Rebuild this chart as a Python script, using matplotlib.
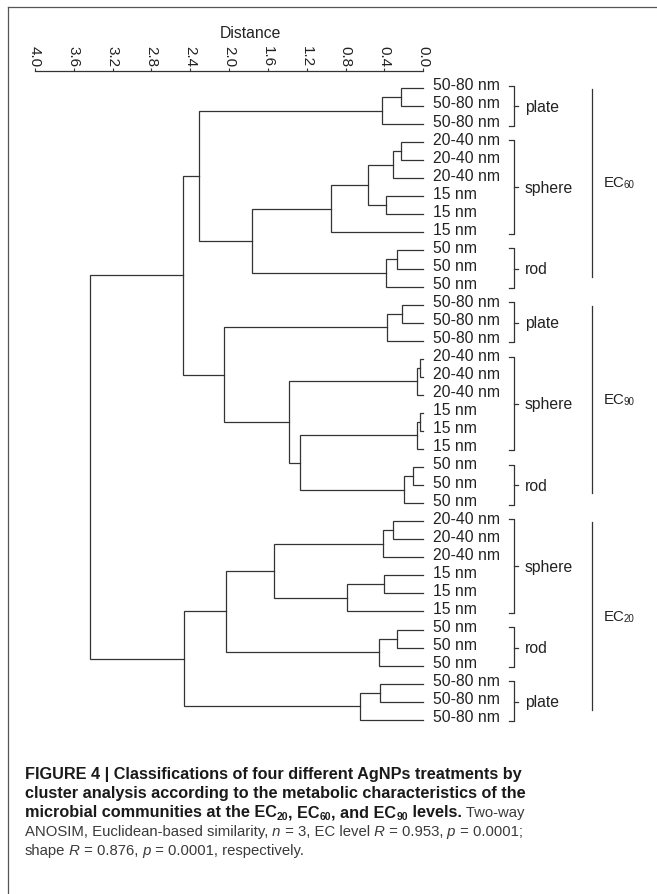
import matplotlib
matplotlib.use("Agg")
import matplotlib.pyplot as plt
from matplotlib.lines import Line2D
from matplotlib import font_manager

# ---------- DATA ----------
leaf_sizes = (["50-80 nm"] * 3 + ["20-40 nm"] * 3 + ["15 nm"] * 3 + ["50 nm"] * 3      # EC60
              + ["50-80 nm"] * 3 + ["20-40 nm"] * 3 + ["15 nm"] * 3 + ["50 nm"] * 3    # EC90
              + ["20-40 nm"] * 3 + ["15 nm"] * 3 + ["50 nm"] * 3 + ["50-80 nm"] * 3)   # EC20
leaf_shapes = (["plate"] * 3 + ["sphere"] * 6 + ["rod"] * 3
               + ["plate"] * 3 + ["sphere"] * 6 + ["rod"] * 3
               + ["sphere"] * 6 + ["rod"] * 3 + ["plate"] * 3)
leaf_levels = ["60"] * 12 + ["90"] * 12 + ["20"] * 12

# linkage: node n_leaf + k joins merge_a[k] and merge_b[k] at merge_h[k]
merge_a = [0, 36, 3, 38, 6, 39, 41, 9, 43, 42, 37,
           12, 47, 15, 49, 18, 51, 21, 53, 52, 50, 48, 46,
           24, 59, 27, 61, 60, 30, 64, 63, 33, 67, 66, 58]
merge_b = [1, 2, 4, 5, 7, 40, 8, 10, 11, 44, 45,
           13, 14, 16, 17, 19, 20, 22, 23, 54, 55, 56, 57,
           25, 26, 28, 29, 62, 31, 32, 65, 34, 35, 68, 69]
merge_h = [0.23, 0.43, 0.23, 0.315, 0.385, 0.57, 0.95, 0.27, 0.38, 1.76, 2.31,
           0.22, 0.37, 0.03, 0.06, 0.03, 0.06, 0.11, 0.20, 1.27, 1.38, 2.05, 2.48,
           0.315, 0.42, 0.405, 0.79, 1.54, 0.27, 0.46, 2.03, 0.45, 0.65, 2.47, 3.43]

dist_ticks = [4.0, 3.6, 3.2, 2.8, 2.4, 2.0, 1.6, 1.2, 0.8, 0.4, 0.0]

# ---------- STYLE ----------
names = {f.name for f in font_manager.fontManager.ttflist}
FONT = "Liberation Sans"
CAP_FONT = "Liberation Sans Narrow" if "Liberation Sans Narrow" in names else "Liberation Sans"
plt.rcParams["font.family"] = [FONT, "DejaVu Sans"]
LINE = "#333333"
TXT = "#222222"
FS = 11.3

W, H = 657, 895
fig = plt.figure(figsize=(W / 100, H / 100), dpi=100)


def fx(px):
    return px / W


def fy(py):
    return 1 - py / H


# axes spans distance 4.0 .. 0.0, leaves at y = 89 + 18.05 * i px
ax = fig.add_axes([fx(35), fy(740), fx(423.3) - fx(35), fy(72.3) - fy(740)])
ax.set_xlim(4.0, 0.0)
ax.set_ylim((740 - 89) / 18.05, (72.3 - 89) / 18.05)
for s in ["bottom", "left", "right"]:
    ax.spines[s].set_visible(False)
ax.spines["top"].set_color(LINE)
ax.spines["top"].set_linewidth(0.9)
ax.xaxis.tick_top()
ax.set_xticks(dist_ticks)
ax.set_xticklabels([f"{t:.1f}" for t in dist_ticks])
ax.tick_params(axis="x", top=True, bottom=False, labelrotation=-90, length=2.5,
               width=0.8, color=LINE, pad=1.5, labelsize=FS - 0.3, labelcolor=TXT)
ax.set_yticks([])
fig.text(fx(250), fy(33), "Distance", ha="center", va="center", fontsize=FS, color=TXT)

# ---------- DENDROGRAM ----------
n_leaf = len(leaf_sizes)
pos = {i: (0.0, float(i)) for i in range(n_leaf)}
for k, (a, b, h) in enumerate(zip(merge_a, merge_b, merge_h)):
    xa, ya = pos[a]
    xb, yb = pos[b]
    ax.plot([xa, h, h, xb], [ya, ya, yb, yb], color=LINE, lw=0.9,
            solid_joinstyle="miter", clip_on=False)
    pos[n_leaf + k] = (h, (ya + yb) / 2)

for i, lab in enumerate(leaf_sizes):
    ax.text(-0.10, i + 0.08, lab, ha="left", va="baseline", fontsize=FS,
            color=TXT, clip_on=False)


def runs(values):
    out, start = [], 0
    for i in range(1, len(values) + 1):
        if i == len(values) or values[i] != values[start]:
            out.append((start, i - 1, values[start]))
            start = i
    return out


# shape brackets
bx0, bx1, bx2, blab = -0.886, -0.937, -0.979, -1.048
for first, last, name in runs([f"{l}{s}" for l, s in zip(leaf_levels, leaf_shapes)]):
    top, bot, mid = first - 0.12, last + 0.08, (first + last) / 2
    ax.plot([bx0, bx1, bx1, bx0], [top, top, bot, bot], color=LINE, lw=0.9, clip_on=False)
    ax.plot([bx1, bx2], [mid, mid], color=LINE, lw=0.9, clip_on=False)
    ax.text(blab, mid, leaf_shapes[first], ha="left", va="center", fontsize=FS,
            color=TXT, clip_on=False)

# EC level bars
for first, last, lev in runs(leaf_levels):
    top, bot = first + 0.05, last - 0.55
    ax.plot([-1.735, -1.735], [top, bot], color=LINE, lw=0.9, clip_on=False)
    t = ax.text(-1.862, (top + bot) / 2 + 0.2, "EC", ha="left", va="baseline",
                fontsize=FS - 0.5, color=TXT, clip_on=False)
    ax.annotate(lev, xy=(1, 0), xycoords=t, xytext=(-0.6, 0), textcoords="offset points",
                ha="left", va="bottom", fontsize=7, color=TXT)

# ---------- FRAME ----------
fig.add_artist(Line2D([fx(8), fx(8)], [0, fy(8)], color="#555555", lw=0.9))
fig.add_artist(Line2D([fx(8), 1], [fy(8), fy(8)], color="#555555", lw=0.9))

# ---------- CAPTION ----------
BOLD = dict(family=CAP_FONT, weight="bold", size=11.7, color="#1a1a1a")
REG = dict(family=CAP_FONT, weight="normal", size=10.75, color="#3a3a3a")
ITA = dict(family=CAP_FONT, weight="normal", style="italic", size=10.75, color="#3a3a3a")
SUB = dict(family=CAP_FONT, weight="bold", size=7.5, color="#1a1a1a")

caption = [
    [("FIGURE 4 | Classifications of four different AgNPs treatments by", BOLD)],
    [("cluster analysis according to the metabolic characteristics of the", BOLD)],
    [("microbial communities at the EC", BOLD), ("20", SUB), (", EC", BOLD), ("60", SUB),
     (", and EC", BOLD), ("90", SUB), (" levels.", BOLD), (" Two-way", REG)],
    [("ANOSIM, Euclidean-based similarity,", REG), (" n", ITA), (" = 3, EC level", REG),
     (" R", ITA), (" = 0.953,", REG), (" p", ITA), (" = 0.0001;", REG)],
    [("shape", REG), (" R", ITA), (" = 0.876,", REG), (" p", ITA),
     (" = 0.0001, respectively.", REG)],
]
renderer = fig.canvas.get_renderer()
for li, line in enumerate(caption):
    x = fx(25)
    base = 779.3 + li * 19.0
    for txt, st in line:
        dy = 3.0 if st is SUB else 0.0
        t = fig.text(x, fy(base + dy), txt, ha="left", va="baseline", fontfamily=st["family"],
                     fontweight=st["weight"], fontstyle=st.get("style", "normal"),
                     fontsize=st["size"], color=st["color"])
        x += t.get_window_extent(renderer).width / fig.bbox.width

fig.savefig("out.png", dpi=100)
